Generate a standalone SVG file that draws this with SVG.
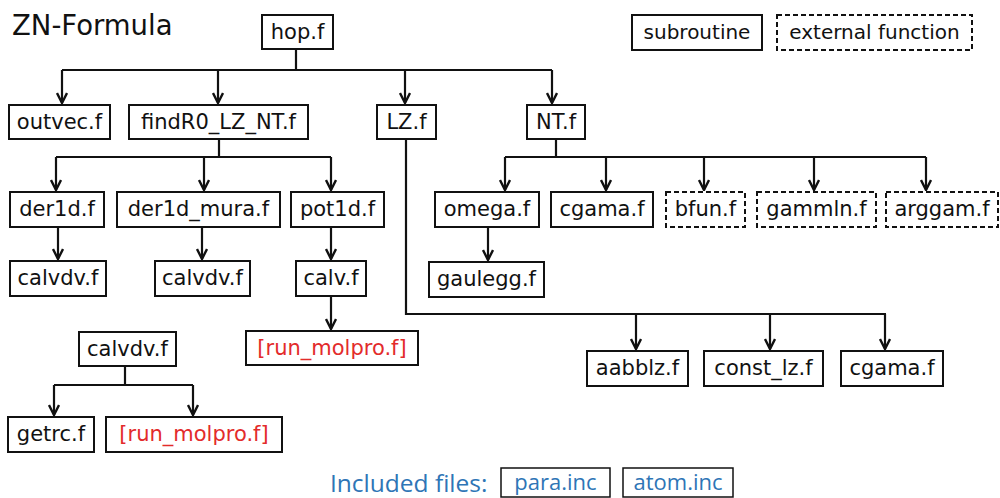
<svg xmlns="http://www.w3.org/2000/svg" width="1000" height="498" viewBox="0 0 1000 498">
<defs>
<marker id="arr" viewBox="0 0 12 12" refX="11" refY="6" markerWidth="12" markerHeight="12" markerUnits="userSpaceOnUse" orient="auto">
<path d="M1,1 L11,6 L1,11" fill="none" stroke="#111" stroke-width="2.4"/>
</marker>
<style>
.b{fill:#fff;stroke:#111;stroke-width:2}
.d{fill:#fff;stroke:#111;stroke-width:2;stroke-dasharray:5 3}
.t{font-family:"DejaVu Sans",Verdana,sans-serif;font-size:21px;fill:#111;text-anchor:middle}
.lg{font-size:20px}
.r{fill:#e32b2b}
.c{fill:none;stroke:#111;stroke-width:2.2}
.a{fill:none;stroke:#111;stroke-width:2.2;marker-end:url(#arr)}
.inc{fill:#fff;stroke:#111;stroke-width:1.5}
.bt{font-family:"Open Sans",sans-serif;fill:#2E75B6}
</style>
</defs>
<rect width="1000" height="498" fill="#fff"/>
<text x="12" y="35" font-family="DejaVu Sans,sans-serif" font-size="27.5" fill="#111">ZN-Formula</text>

<g id="connectors">
<path class="c" d="M296,49 V70 M62,70 H552"/>
<path class="a" d="M62,70 V103"/>
<path class="a" d="M218,70 V103"/>
<path class="a" d="M405,70 V103"/>
<path class="a" d="M552,70 V103"/>
<path class="c" d="M219,139 V157 M56,157 H331"/>
<path class="a" d="M56,157 V190"/>
<path class="a" d="M204,157 V190"/>
<path class="a" d="M331,157 V190"/>
<path class="a" d="M58,227 V259"/>
<path class="a" d="M202,227 V259"/>
<path class="a" d="M331,227 V259"/>
<path class="a" d="M331,296 V329"/>
<path class="c" d="M406,139 V314 H886"/>
<path class="a" d="M636,314 V349"/>
<path class="a" d="M770,314 V349"/>
<path class="a" d="M885,314 V349"/>
<path class="c" d="M556,139 V157 M505,157 H926"/>
<path class="a" d="M505,157 V190"/>
<path class="a" d="M606,157 V190"/>
<path class="a" d="M704,157 V190"/>
<path class="a" d="M814,157 V190"/>
<path class="a" d="M926,157 V190"/>
<path class="a" d="M488,227 V260"/>
<path class="c" d="M125,366 V385 M54,385 H193"/>
<path class="a" d="M54,385 V415"/>
<path class="a" d="M193,385 V415"/>
</g>

<g id="hop"><rect class="b" x="262" y="15" width="71" height="34"/><text class="t" x="297.5" y="38.5">hop.f</text></g>
<g id="legend-sub"><rect class="b" x="632" y="15" width="130" height="35"/><text class="t lg" x="697" y="38.5">subroutine</text></g>
<g id="legend-ext"><rect class="d" x="777" y="15" width="195" height="35"/><text class="t lg" x="874.5" y="38.5">external function</text></g>

<g id="outvec"><rect class="b" x="9" y="105" width="101" height="34"/><text class="t" x="59.5" y="128.5">outvec.f</text></g>
<g id="findR0"><rect class="b" x="129" y="105" width="179" height="34"/><text class="t" x="218.5" y="128.5">findR0_LZ_NT.f</text></g>
<g id="LZ"><rect class="b" x="377" y="105" width="59" height="34"/><text class="t" x="406.5" y="128.5">LZ.f</text></g>
<g id="NT"><rect class="b" x="527" y="105" width="58" height="34"/><text class="t" x="556" y="128.5">NT.f</text></g>

<g id="der1d"><rect class="b" x="10" y="192" width="94" height="35"/><text class="t" x="57" y="216">der1d.f</text></g>
<g id="der1d_mura"><rect class="b" x="117" y="192" width="163" height="35"/><text class="t" x="198.5" y="216">der1d_mura.f</text></g>
<g id="pot1d"><rect class="b" x="291" y="192" width="93" height="35"/><text class="t" x="337.5" y="216">pot1d.f</text></g>

<g id="calvdv1"><rect class="b" x="10" y="261" width="96" height="35"/><text class="t" x="58" y="285">calvdv.f</text></g>
<g id="calvdv2"><rect class="b" x="155" y="261" width="95" height="35"/><text class="t" x="202.5" y="285">calvdv.f</text></g>
<g id="calv"><rect class="b" x="296" y="261" width="70" height="35"/><text class="t" x="331" y="285">calv.f</text></g>
<g id="run_molpro1"><rect class="b" x="246" y="331" width="172" height="34"/><text class="t r" x="332" y="354.5">[run_molpro.f]</text></g>

<g id="omega"><rect class="b" x="435" y="192" width="104" height="35"/><text class="t" x="487" y="216">omega.f</text></g>
<g id="cgama1"><rect class="b" x="551" y="192" width="102" height="35"/><text class="t" x="602" y="216">cgama.f</text></g>
<g id="bfun"><rect class="d" x="666" y="192" width="79" height="35"/><text class="t" x="705.5" y="216">bfun.f</text></g>
<g id="gammln"><rect class="d" x="757" y="192" width="119" height="35"/><text class="t" x="816.5" y="216">gammln.f</text></g>
<g id="arggam"><rect class="d" x="886" y="192" width="112" height="35"/><text class="t" x="942" y="216">arggam.f</text></g>
<g id="gaulegg"><rect class="b" x="429" y="262" width="115" height="35"/><text class="t" x="486.5" y="286">gaulegg.f</text></g>

<g id="aabblz"><rect class="b" x="587" y="351" width="101" height="35"/><text class="t" x="637.5" y="375">aabblz.f</text></g>
<g id="const_lz"><rect class="b" x="704" y="351" width="119" height="35"/><text class="t" x="763.5" y="375">const_lz.f</text></g>
<g id="cgama2"><rect class="b" x="841" y="351" width="102" height="35"/><text class="t" x="892" y="375">cgama.f</text></g>

<g id="calvdv-top"><rect class="b" x="79" y="332" width="97" height="34"/><text class="t" x="127.5" y="355.5">calvdv.f</text></g>
<g id="getrc"><rect class="b" x="8" y="417" width="86" height="35"/><text class="t" x="51" y="441">getrc.f</text></g>
<g id="run_molpro2"><rect class="b" x="106" y="417" width="176" height="35"/><text class="t r" x="194" y="441">[run_molpro.f]</text></g>

<g id="included">
<text class="bt" x="330" y="492" font-size="24.5">Included files:</text>
<rect class="inc" x="501" y="468" width="109" height="29"/>
<text class="bt" x="555.5" y="490" font-size="22" text-anchor="middle">para.inc</text>
<rect class="inc" x="623" y="468" width="110" height="29"/>
<text class="bt" x="678" y="490" font-size="22" text-anchor="middle">atom.inc</text>
</g>
</svg>
